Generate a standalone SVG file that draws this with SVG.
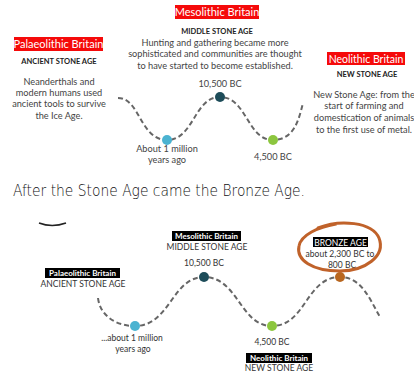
<svg xmlns="http://www.w3.org/2000/svg" width="414" height="376" viewBox="0 0 414 376">
<style>
.red{fill:#f50a0a}
.blk{fill:#000}
.lab{font-family:Lato,"Open Sans",sans-serif;fill:#fff;text-anchor:middle}
.hd{font-family:Lato,"Open Sans",sans-serif;font-weight:bold;fill:#222;text-anchor:middle;font-size:7.5px}
.p{font-family:Lato,"Open Sans",sans-serif;fill:#444;text-anchor:middle;font-size:9.2px}
.b{font-family:Lato,"Open Sans",sans-serif;fill:#333;text-anchor:middle;font-size:8.5px}
.wave{fill:none;stroke:#666;stroke-width:2;stroke-dasharray:5 3}
</style>
<rect width="414" height="376" fill="#fff"/>
<g id="connectors">
<path class="wave" d="M118,98 C140,98 140,140 167,140 C194,140 194,97 220,97 C247,97 247,140 273,140 C295,140 299,118 303,103"/>
<path class="wave" d="M98,298 C100,315 115,326 135,326 C170,326 172,277 204,277 C238,277 240,326 272,326 C306,326 306,277 340,277 C362,277 370,300 380,317"/>
</g>
<g id="palaeo-top">
<rect class="red" x="14" y="37" width="89" height="14"/>
<text class="lab" x="58.5" y="48" font-size="11">Palaeolithic Britain</text>
<text class="hd" x="59" y="64">ANCIENT STONE AGE</text>
<text class="p" x="59" y="85">Neanderthals and</text>
<text class="p" x="59" y="96">modern humans used</text>
<text class="p" x="59" y="107">ancient tools to survive</text>
<text class="p" x="59" y="119">the Ice Age.</text>
</g>
<g id="meso-top">
<rect class="red" x="175" y="5" width="84" height="14"/>
<text class="lab" x="217" y="16" font-size="11">Mesolithic Britain</text>
<text class="hd" x="217" y="34">MIDDLE STONE AGE</text>
<text class="p" x="215" y="46">Hunting and gathering became more</text>
<text class="p" x="215" y="57">sophisticated and communities are thought</text>
<text class="p" x="215" y="69">to have started to become established.</text>
</g>
<g id="neo-top">
<rect class="red" x="327" y="52" width="78" height="13"/>
<text class="lab" x="366" y="62.5" font-size="10.5">Neolithic Britain</text>
<text class="hd" x="367" y="77">NEW STONE AGE</text>
<text class="p" x="364" y="98" font-size="8.8">New Stone Age: from the</text>
<text class="p" x="364" y="109" font-size="8.8">start of farming and</text>
<text class="p" x="364" y="121" font-size="8.8">domestication of animals</text>
<text class="p" x="364" y="133" font-size="8.8">to the first use of metal.</text>
</g>
<g id="dots-top">
<circle cx="167" cy="140" r="5" fill="#4bb3d1"/>
<circle cx="220" cy="97" r="5" fill="#1d4c59"/>
<circle cx="273" cy="140" r="5" fill="#8cc63f"/>
<text class="p" x="220" y="87">10,500 BC</text>
<text class="p" x="167" y="152">About 1 million</text>
<text class="p" x="167" y="163">years ago</text>
<text class="p" x="273" y="160">4,500 BC</text>
</g>
<g id="caption">
<text x="13" y="196" font-family="'DejaVu Sans',sans-serif" font-size="16" font-weight="200" fill="#111" textLength="292" lengthAdjust="spacingAndGlyphs">After the Stone Age came the Bronze Age.</text>
<path d="M39,223 Q52,228 66,223" fill="none" stroke="#222" stroke-width="1.6"/>
</g>
<g id="meso-bottom">
<rect class="blk" x="172" y="231" width="69" height="10"/>
<text class="lab" x="206.5" y="239" font-size="8" font-weight="bold">Mesolithic Britain</text>
<text class="b" x="207" y="250">MIDDLE STONE AGE</text>
<text class="b" x="204" y="266">10,500 BC</text>
<circle cx="204" cy="277" r="5" fill="#1d4c59"/>
</g>
<g id="palaeo-bottom">
<rect class="blk" x="45" y="268" width="75" height="10"/>
<text class="lab" x="82.5" y="276" font-size="8" font-weight="bold">Palaeolithic Britain</text>
<text class="b" x="83" y="287">ANCIENT STONE AGE</text>
<circle cx="135" cy="326" r="5" fill="#4bb3d1"/>
<text class="b" x="132" y="341">...about 1 million</text>
<text class="b" x="133" y="352">years ago</text>
</g>
<g id="neo-bottom">
<circle cx="272" cy="326" r="5" fill="#8cc63f"/>
<text class="b" x="272" y="345">4,500 BC</text>
<rect class="blk" x="246" y="353" width="66" height="10"/>
<text class="lab" x="279" y="361" font-size="8" font-weight="bold">Neolithic Britain</text>
<text class="b" x="279" y="371">NEW STONE AGE</text>
</g>
<g id="bronze">
<circle cx="340" cy="277" r="5" fill="#b8661f"/>
<rect class="blk" x="313" y="237" width="55" height="10"/>
<text class="lab" x="340.5" y="245.5" font-size="8.5">BRONZE AGE</text>
<text class="b" x="340" y="257">about 2,300 BC to</text>
<text class="b" x="342" y="268">800 BC</text>
<path d="M318,228 C340,219 372,222 379,238 C386,256 365,271 340,271 C312,271 296,260 299,246 C301,235 318,227 336,224" fill="none" stroke="#c0622a" stroke-width="3" stroke-linecap="round"/>
</g>
</svg>
